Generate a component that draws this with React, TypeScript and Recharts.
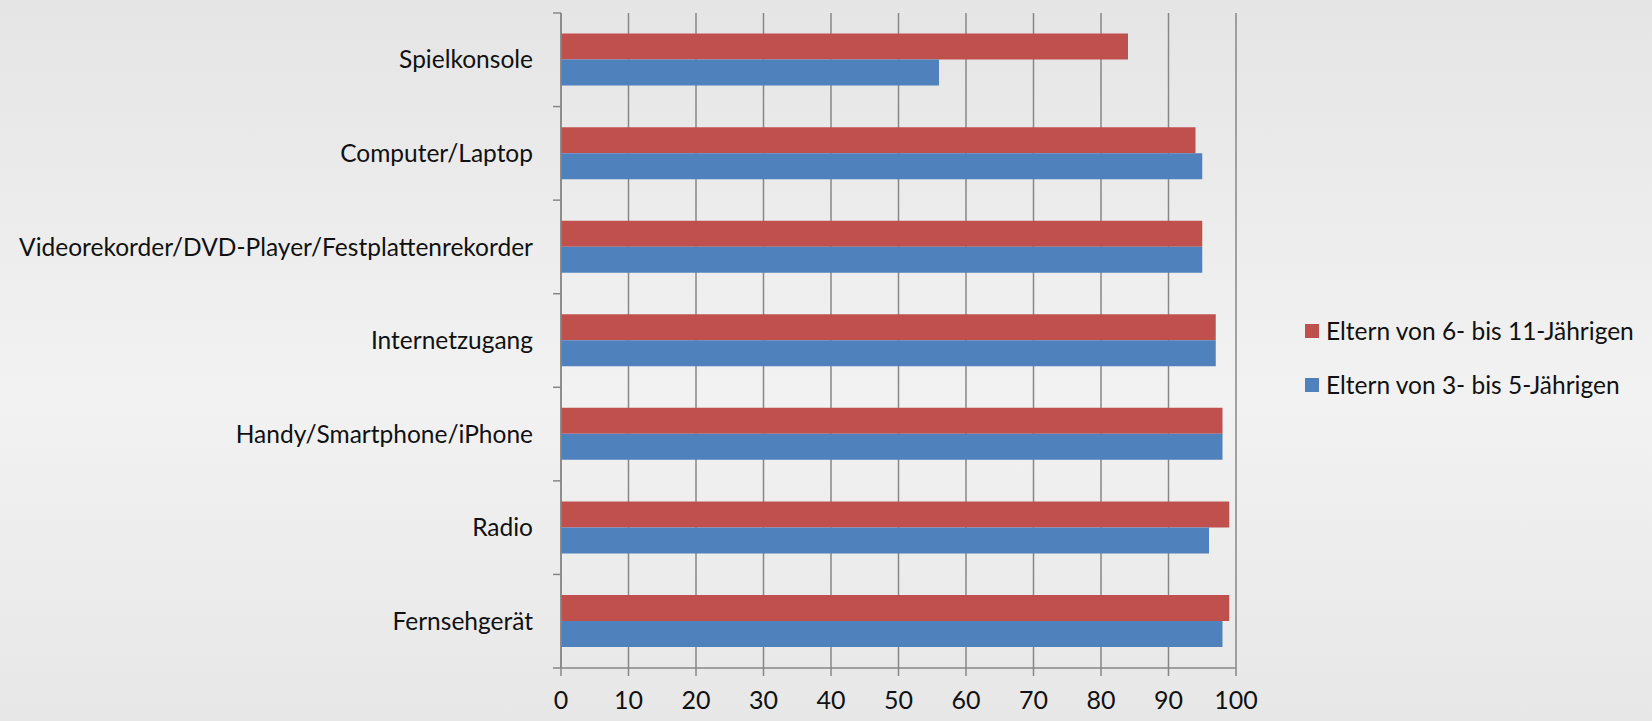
import React from 'react';
import { BarChart, Bar, XAxis, YAxis, CartesianGrid } from 'recharts';

const categories = [
  'Spielkonsole',
  'Computer/Laptop',
  'Videorekorder/DVD-Player/Festplattenrekorder',
  'Internetzugang',
  'Handy/Smartphone/iPhone',
  'Radio',
  'Fernsehgerät',
];

const older = [84, 94, 95, 97, 98, 99, 99];
const younger = [56, 95, 95, 97, 98, 96, 98];

const seriesNames = ['Eltern von 6- bis 11-Jährigen', 'Eltern von 3- bis 5-Jährigen'];
const xTicks = [0, 10, 20, 30, 40, 50, 60, 70, 80, 90, 100];

const RED = '#C0504D';
const BLUE = '#4F81BD';
const GRID = '#878787';
const FONT = 'Lato, "Open Sans", sans-serif';

const WIDTH = 1652;
const HEIGHT = 721;
const PLOT_TOP = 13;
const PLOT_BOTTOM = 668;
const PLOT_LEFT = 561;
const PLOT_RIGHT = 1236;
const BAND = (PLOT_BOTTOM - PLOT_TOP) / categories.length;

const data = categories.map((name, i) => ({
  name,
  older: older[i],
  younger: younger[i],
}));

// category label plus the boundary tick marks Excel puts between categories
function CategoryTick(props: any) {
  const { x, y, payload, index } = props;
  const axisX = PLOT_LEFT;
  const last = index === categories.length - 1;
  return (
    <g>
      <line x1={axisX - 8} x2={axisX} y1={y - BAND / 2} y2={y - BAND / 2} stroke={GRID} strokeWidth={1.5} />
      {last && (
        <line x1={axisX - 8} x2={axisX} y1={y + BAND / 2} y2={y + BAND / 2} stroke={GRID} strokeWidth={1.5} />
      )}
      <text
        x={x - 20}
        y={y}
        dy="0.35em"
        textAnchor="end"
        fill="#111"
        fontSize={24.5}
        fontFamily={FONT}
      >
        {payload.value}
      </text>
    </g>
  );
}

function LegendBox() {
  const items = [
    { label: seriesNames[0], color: RED },
    { label: seriesNames[1], color: BLUE },
  ];
  return (
    <div style={{ position: 'absolute', left: 1305, top: 316 }}>
      {items.map((it) => (
        <div key={it.label} style={{ display: 'flex', alignItems: 'center', height: 29, marginBottom: 25 }}>
          <span style={{ width: 14, height: 14, background: it.color, display: 'inline-block', marginRight: 7 }} />
          <span style={{ fontFamily: FONT, fontSize: 24.5, color: '#111', whiteSpace: 'nowrap' }}>{it.label}</span>
        </div>
      ))}
    </div>
  );
}

export default function App() {
  return (
    <div
      style={{
        position: 'relative',
        width: WIDTH,
        height: HEIGHT,
        background: 'linear-gradient(to bottom, #e5e5e5 0%, #f2f2f2 55%, #e7e7e7 100%)',
      }}
    >
      <style>{`body{margin:0}`}</style>
      <BarChart
        width={WIDTH}
        height={HEIGHT}
        data={data}
        layout="vertical"
        margin={{ top: PLOT_TOP, right: WIDTH - PLOT_RIGHT, bottom: 0, left: 0 }}
        barCategoryGap="22%"
        barGap={0}
      >
        <CartesianGrid horizontal={false} stroke={GRID} strokeWidth={1.5} />
        <XAxis
          type="number"
          domain={[0, 100]}
          ticks={xTicks}
          interval={0}
          height={HEIGHT - PLOT_BOTTOM}
          stroke={GRID}
          strokeWidth={1.5}
          tickSize={8}
          tickMargin={15}
          tick={{ fill: '#111', fontSize: 25, fontFamily: FONT }}
        />
        <YAxis
          type="category"
          dataKey="name"
          width={PLOT_LEFT}
          interval={0}
          stroke={GRID}
          strokeWidth={1.5}
          tickLine={false}
          tick={<CategoryTick />}
        />
        <Bar dataKey="older" name={seriesNames[0]} fill={RED} isAnimationActive={false} />
        <Bar dataKey="younger" name={seriesNames[1]} fill={BLUE} isAnimationActive={false} />
      </BarChart>
      <LegendBox />
    </div>
  );
}
